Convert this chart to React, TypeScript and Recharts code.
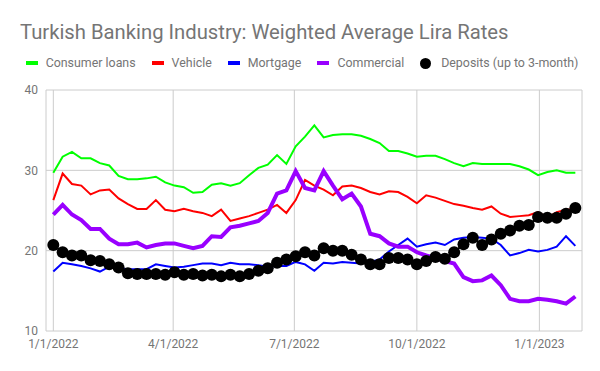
import { CartesianGrid, Line, LineChart, XAxis, YAxis } from 'recharts';

const dates = [
  '2022-01-01', '2022-01-08', '2022-01-15', '2022-01-22', '2022-01-29',
  '2022-02-05', '2022-02-12', '2022-02-19', '2022-02-26',
  '2022-03-05', '2022-03-12', '2022-03-19', '2022-03-26',
  '2022-04-02', '2022-04-09', '2022-04-16', '2022-04-23', '2022-04-30',
  '2022-05-07', '2022-05-14', '2022-05-21', '2022-05-28',
  '2022-06-04', '2022-06-11', '2022-06-18', '2022-06-25',
  '2022-07-02', '2022-07-09', '2022-07-16', '2022-07-23', '2022-07-30',
  '2022-08-06', '2022-08-13', '2022-08-20', '2022-08-27',
  '2022-09-03', '2022-09-10', '2022-09-17', '2022-09-24',
  '2022-10-01', '2022-10-08', '2022-10-15', '2022-10-22', '2022-10-29',
  '2022-11-05', '2022-11-12', '2022-11-19', '2022-11-26',
  '2022-12-03', '2022-12-10', '2022-12-17', '2022-12-24', '2022-12-31',
  '2023-01-07', '2023-01-14', '2023-01-21', '2023-01-28',
];

const consumer = [
  29.7, 31.7, 32.3, 31.5, 31.5, 30.9, 30.6, 29.3, 28.9, 28.9,
  29.0, 29.2, 28.5, 28.1, 27.9, 27.2, 27.3, 28.2, 28.4, 28.1,
  28.4, 29.4, 30.3, 30.7, 31.9, 30.8, 33.0, 34.2, 35.6, 34.1,
  34.4, 34.5, 34.5, 34.3, 33.9, 33.4, 32.4, 32.4, 32.1, 31.7,
  31.8, 31.8, 31.4, 30.9, 30.5, 30.9, 30.8, 30.8, 30.8, 30.8,
  30.5, 30.1, 29.4, 29.8, 30.0, 29.7, 29.7,
];

const vehicle = [
  26.3, 29.6, 28.3, 28.1, 27.0, 27.5, 27.6, 26.5, 25.8, 25.2,
  25.2, 26.3, 25.1, 24.9, 25.2, 24.9, 24.7, 24.3, 25.1, 23.7,
  24.0, 24.3, 24.7, 25.1, 25.7, 24.7, 26.3, 28.8, 28.1, 27.6,
  26.9, 28.0, 28.1, 27.8, 27.3, 27.0, 27.4, 27.3, 26.7, 25.9,
  26.9, 26.6, 26.2, 25.8, 25.6, 25.3, 25.1, 25.5, 24.6, 24.2,
  24.3, 24.4, 24.8, 24.1, 24.8, 25.1, 25.2,
];

const mortgage = [
  17.4, 18.5, 18.3, 18.1, 17.8, 17.4, 18.0, 17.8, 17.7, 17.7,
  17.7, 18.3, 18.1, 17.9, 18.0, 18.2, 18.4, 18.4, 18.2, 18.5,
  18.3, 18.3, 18.2, 18.0, 18.1, 18.1, 18.6, 18.3, 17.5, 18.5,
  18.4, 18.6, 18.5, 18.4, 18.6, 18.9, 19.9, 20.7, 21.5, 20.5,
  20.8, 21.0, 20.7, 21.4, 21.6, 21.7, 21.6, 21.5, 20.7, 19.4,
  19.7, 20.1, 19.9, 20.1, 20.5, 21.8, 20.6,
];

const commercial = [
  24.5, 25.7, 24.5, 23.8, 22.7, 22.7, 21.5, 20.8, 20.8, 21.0,
  20.4, 20.7, 20.9, 20.9, 20.6, 20.3, 20.6, 21.8, 21.7, 22.9,
  23.1, 23.4, 23.7, 24.7, 27.1, 27.5, 29.9, 27.8, 27.5, 29.9,
  28.1, 26.4, 27.1, 25.5, 22.1, 21.8, 20.9, 20.5, 20.5, 19.8,
  19.4, 19.1, 18.7, 18.4, 16.7, 16.2, 16.3, 16.9, 15.7, 14.0,
  13.7, 13.7, 14.0, 13.9, 13.7, 13.4, 14.3,
];

const deposits = [
  20.7, 19.8, 19.4, 19.4, 18.8, 18.7, 18.3, 17.9, 17.2, 17.1,
  17.1, 17.1, 17.0, 17.3, 17.0, 17.1, 16.9, 17.0, 16.8, 17.0,
  16.8, 17.1, 17.5, 17.8, 18.5, 18.9, 19.3, 19.8, 19.4, 20.3,
  20.0, 20.0, 19.5, 18.9, 18.3, 18.3, 19.1, 19.1, 18.9, 18.3,
  18.7, 19.2, 19.0, 19.8, 20.8, 21.6, 20.7, 21.4, 22.1, 22.5,
  23.1, 23.2, 24.2, 24.1, 24.1, 24.6, 25.3,
];

const xTicks = ['2022-01-01', '2022-04-01', '2022-07-01', '2022-10-01', '2023-01-01'];
const yTicks = [10, 20, 30, 40];

const ts = (d: string) => Date.parse(d + 'T00:00:00Z');

const data = dates.map((d, i) => ({
  t: ts(d),
  consumer: consumer[i],
  vehicle: vehicle[i],
  mortgage: mortgage[i],
  commercial: commercial[i],
  deposits: deposits[i],
}));

const FONT = 'Roboto, Arial, sans-serif';
const TEXT = '#757575';

const series = [
  { key: 'consumer', name: 'Consumer loans', color: '#00ff00', width: 2 },
  { key: 'vehicle', name: 'Vehicle', color: '#ff0000', width: 2 },
  { key: 'mortgage', name: 'Mortgage', color: '#0000ff', width: 2 },
  { key: 'commercial', name: 'Commercial', color: '#9900ff', width: 4 },
];

const fmtDate = (v: number) => {
  const d = new Date(v);
  return `${d.getUTCMonth() + 1}/${d.getUTCDate()}/${d.getUTCFullYear()}`;
};

function LegendRow() {
  return (
    <div
      style={{
        position: 'absolute',
        top: 54,
        left: 0,
        width: 604,
        display: 'flex',
        justifyContent: 'center',
        gap: 16,
        fontFamily: FONT,
        fontSize: 12.4,
        color: TEXT,
        lineHeight: '18px',
      }}
    >
      {series.map((s) => (
        <span key={s.key} style={{ display: 'flex', alignItems: 'center' }}>
          <span style={{ width: 12, height: 4, background: s.color, marginRight: 8 }} />
          {s.name}
        </span>
      ))}
      <span style={{ display: 'flex', alignItems: 'center' }}>
        <span
          style={{ width: 11, height: 11, borderRadius: 6, background: '#000', marginRight: 10 }}
        />
        Deposits (up to 3-month)
      </span>
    </div>
  );
}

export default function App() {
  return (
    <div style={{ position: 'absolute', left: 0, top: 0, width: 600, height: 371, background: '#fff' }}>
      <div
        style={{
          position: 'absolute',
          left: 20,
          top: 20,
          fontFamily: FONT,
          fontSize: 20.25,
          color: TEXT,
          lineHeight: '24px',
        }}
      >
        Turkish Banking Industry: Weighted Average Lira Rates
      </div>
      <LegendRow />
      <LineChart
        width={600}
        height={371}
        data={data}
        margin={{ top: 90, right: 18, bottom: 10, left: 0 }}
      >
        <CartesianGrid stroke="#cccccc" />
        <XAxis
          dataKey="t"
          type="number"
          scale="time"
          domain={[ts('2021-12-26') + 43200000, ts('2023-02-02')]}
          ticks={xTicks.map(ts)}
          tickFormatter={fmtDate}
          height={30}
          axisLine={false}
          tickLine={false}
          tick={{ fill: TEXT, fontSize: 12, fontFamily: FONT }}
        />
        <YAxis
          domain={[10, 40]}
          ticks={yTicks}
          width={46}
          axisLine={false}
          tickLine={false}
          tick={{ fill: TEXT, fontSize: 12, fontFamily: FONT }}
        />
        {series.map((s) => (
          <Line
            key={s.key}
            dataKey={s.key}
            name={s.name}
            stroke={s.color}
            strokeWidth={s.width}
            dot={false}
            isAnimationActive={false}
          />
        ))}
        <Line
          dataKey="deposits"
          name="Deposits (up to 3-month)"
          stroke="#000"
          strokeWidth={2}
          dot={{ r: 6, fill: '#000', stroke: 'none' }}
          isAnimationActive={false}
        />
      </LineChart>
    </div>
  );
}
